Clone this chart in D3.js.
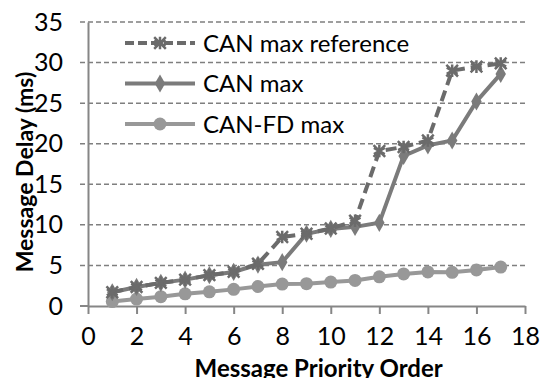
<!DOCTYPE html>
<html>
<head>
<meta charset="utf-8">
<script src="https://cdn.jsdelivr.net/npm/d3@7"></script>
<style>
  body { margin: 0; background: #fff; }
  svg { display: block; }
</style>
</head>
<body>
<div id="wrapper"></div>
<script>
// data
const order = [1, 2, 3, 4, 5, 6, 7, 8, 9, 10, 11, 12, 13, 14, 15, 16, 17]
const canMaxRef = [1.7, 2.35, 2.85, 3.25, 3.8, 4.2, 5.2, 8.5, 8.9, 9.55, 10.5, 19.1, 19.6, 20.4, 29.0, 29.5, 29.9]
const canMax = [1.7, 2.35, 2.85, 3.25, 3.8, 4.2, 5.1, 5.4, 8.9, 9.5, 9.75, 10.25, 18.5, 19.8, 20.4, 25.2, 28.6]
const canFdMax = [0.55, 0.85, 1.15, 1.5, 1.75, 2.05, 2.4, 2.7, 2.75, 2.95, 3.15, 3.6, 3.95, 4.2, 4.15, 4.45, 4.8]
const seriesNames = ["CAN max reference", "CAN max", "CAN-FD max"]
const xTicks = [0, 2, 4, 6, 8, 10, 12, 14, 16, 18]
const yTicks = [0, 5, 10, 15, 20, 25, 30, 35]

function drawChart() {
  const dimensions = {
    width: 547,
    height: 378,
    margin: { top: 22, right: 22, bottom: 72, left: 88 },
  }
  dimensions.boundedWidth = dimensions.width - dimensions.margin.left - dimensions.margin.right
  dimensions.boundedHeight = dimensions.height - dimensions.margin.top - dimensions.margin.bottom

  const font = "Lato, 'Open Sans', sans-serif"

  const wrapper = d3.select("#wrapper")
    .append("svg")
      .attr("width", dimensions.width)
      .attr("height", dimensions.height)

  const bounds = wrapper.append("g")
      .attr("transform", `translate(${dimensions.margin.left},${dimensions.margin.top})`)

  // scales
  const xScale = d3.scaleLinear()
    .domain([0, 18])
    .range([0, dimensions.boundedWidth])

  const yScale = d3.scaleLinear()
    .domain([0, 35])
    .range([dimensions.boundedHeight, 0])

  // gridlines (dashed)
  bounds.append("g")
    .selectAll("line")
    .data(yTicks.filter(d => d > 0))
    .join("line")
      .attr("x1", -8)
      .attr("x2", dimensions.boundedWidth)
      .attr("y1", d => yScale(d))
      .attr("y2", d => yScale(d))
      .attr("stroke", "#7f7f7f")
      .attr("stroke-width", 1.5)
      .attr("stroke-dasharray", "5,3")

  // axes
  const yAxis = bounds.append("g")
    .call(d3.axisLeft(yScale).tickValues(yTicks).tickSize(0).tickPadding(25))
  yAxis.select(".domain").attr("stroke", "#868686").attr("stroke-width", 2)
  yAxis.selectAll("text")
    .attr("fill", "#000")
    .style("font-family", font)
    .style("font-size", "25px")

  const xAxis = bounds.append("g")
    .attr("transform", `translate(0,${dimensions.boundedHeight})`)
    .call(d3.axisBottom(xScale).tickValues(xTicks).tickSize(8).tickSizeOuter(0).tickPadding(13))
  xAxis.select(".domain").attr("stroke", "#868686").attr("stroke-width", 2)
  xAxis.selectAll(".tick line").attr("stroke", "#868686").attr("stroke-width", 2)
  xAxis.selectAll("text")
    .attr("fill", "#000")
    .style("font-family", font)
    .style("font-size", "25px")

  // the zero line reaches out to the left like the gridlines
  bounds.append("line")
    .attr("x1", -8).attr("x2", 0)
    .attr("y1", yScale(0)).attr("y2", yScale(0))
    .attr("stroke", "#868686").attr("stroke-width", 2)

  // series
  const series = [
    { name: seriesNames[0], values: canMaxRef, color: "#6b6b6b", dash: "11,6", marker: "star" },
    { name: seriesNames[1], values: canMax, color: "#7b7b7b", dash: null, marker: "diamond" },
    { name: seriesNames[2], values: canFdMax, color: "#989898", dash: null, marker: "circle" },
  ]

  const lineGenerator = d3.line()
    .x(d => xScale(d[0]))
    .y(d => yScale(d[1]))

  const drawMarker = (sel, s) => {
    if (s.marker === "circle") {
      sel.append("circle").attr("r", 6.5).attr("fill", s.color)
    } else if (s.marker === "diamond") {
      sel.append("path")
        .attr("d", d3.symbol(d3.symbolDiamond, 95)())
        .attr("fill", s.color)
    } else {
      sel.append("path")
        .attr("d", d3.symbol(d3.symbolAsterisk, 110)())
        .attr("fill", "none")
        .attr("stroke", s.color)
        .attr("stroke-width", 2.5)
      sel.append("path")
        .attr("d", d3.symbol(d3.symbolTimes, 90)())
        .attr("fill", "none")
        .attr("stroke", s.color)
        .attr("stroke-width", 2.5)
    }
  }

  // draw back to front: CAN-FD, CAN max, reference on top
  series.slice().reverse().forEach(s => {
    const points = order.map((o, i) => [o, s.values[i]])
    bounds.append("path")
      .datum(points)
      .attr("d", lineGenerator)
      .attr("fill", "none")
      .attr("stroke", s.color)
      .attr("stroke-width", 4)
      .attr("stroke-dasharray", s.dash)
    bounds.append("g")
      .selectAll("g")
      .data(points)
      .join("g")
        .attr("transform", d => `translate(${xScale(d[0])},${yScale(d[1])})`)
        .each(function () { drawMarker(d3.select(this), s) })
  })

  // legend
  const legend = wrapper.append("g")
    .attr("transform", "translate(125,43)")
  series.forEach((s, i) => {
    const item = legend.append("g").attr("transform", `translate(0,${i * 40.5})`)
    item.append("line")
      .attr("x1", 0).attr("x2", 70)
      .attr("stroke", s.color)
      .attr("stroke-width", 4)
      .attr("stroke-dasharray", s.dash ? "9,4" : null)
    const m = item.append("g").attr("transform", "translate(35,0)")
    drawMarker(m, s)
    item.append("text")
      .attr("x", 78)
      .attr("y", 8.5)
      .style("font-family", font)
      .style("font-size", "24px")
      .attr("fill", "#000")
      .text(s.name)
  })

  // axis titles
  wrapper.append("text")
    .attr("x", dimensions.margin.left + xScale(9.5))
    .attr("y", 377)
    .attr("text-anchor", "middle")
    .style("font-family", font)
    .style("font-size", "24px")
    .style("font-weight", "bold")
    .text("Message Priority Order")

  wrapper.append("text")
    .attr("transform", "translate(33,172) rotate(-90)")
    .attr("text-anchor", "middle")
    .style("font-family", font)
    .style("font-size", "23px")
    .style("font-weight", "bold")
    .text("Message Delay (ms)")
}

drawChart()
</script>
</body>
</html>
